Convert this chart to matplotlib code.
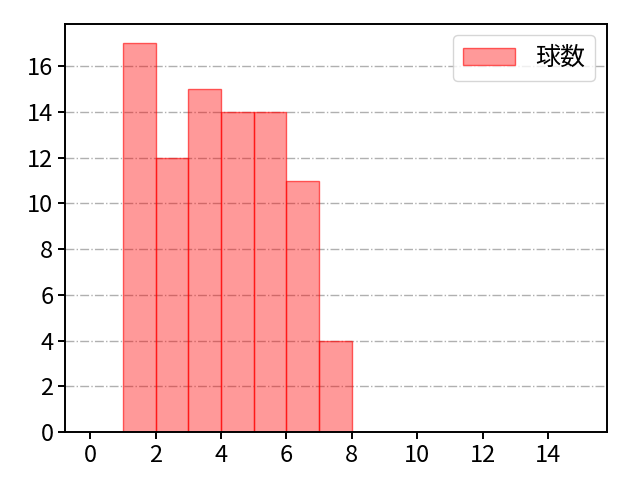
import matplotlib
matplotlib.use('Agg')
import matplotlib.pyplot as plt
import numpy as np

plt.rcParams['font.family'] = ['Noto Sans CJK JP', 'DejaVu Sans']

# Histogram bins (left edges) and counts
bin_left = [1, 2, 3, 4, 5, 6, 7]
counts = [17, 12, 15, 14, 14, 11, 4]
xticks = [0, 2, 4, 6, 8, 10, 12, 14]
yticks = [0, 2, 4, 6, 8, 10, 12, 14, 16]

fig, ax = plt.subplots(figsize=(6.4, 4.8), dpi=100)

ax.bar(bin_left, counts, width=1.0, align='edge',
       color=(1, 0, 0, 0.4), edgecolor=(1, 0, 0, 0.6), linewidth=1,
       label='球数')

ax.set_xlim(-0.77, 15.8)
ax.set_xticks(xticks)
ax.set_yticks(yticks)
ax.grid(axis='y', linestyle='-.', color='#b0b0b0', linewidth=1.0)
ax.set_axisbelow(True)
ax.tick_params(labelsize=17, length=5, width=1.4)
for s in ax.spines.values():
    s.set_linewidth(1.4)
ax.legend(fontsize=18, loc='upper right', handlelength=2.1, borderaxespad=0.45)

plt.subplots_adjust(left=0.102, right=0.948, top=0.95, bottom=0.1)
plt.savefig('out.png')
plt.close()
